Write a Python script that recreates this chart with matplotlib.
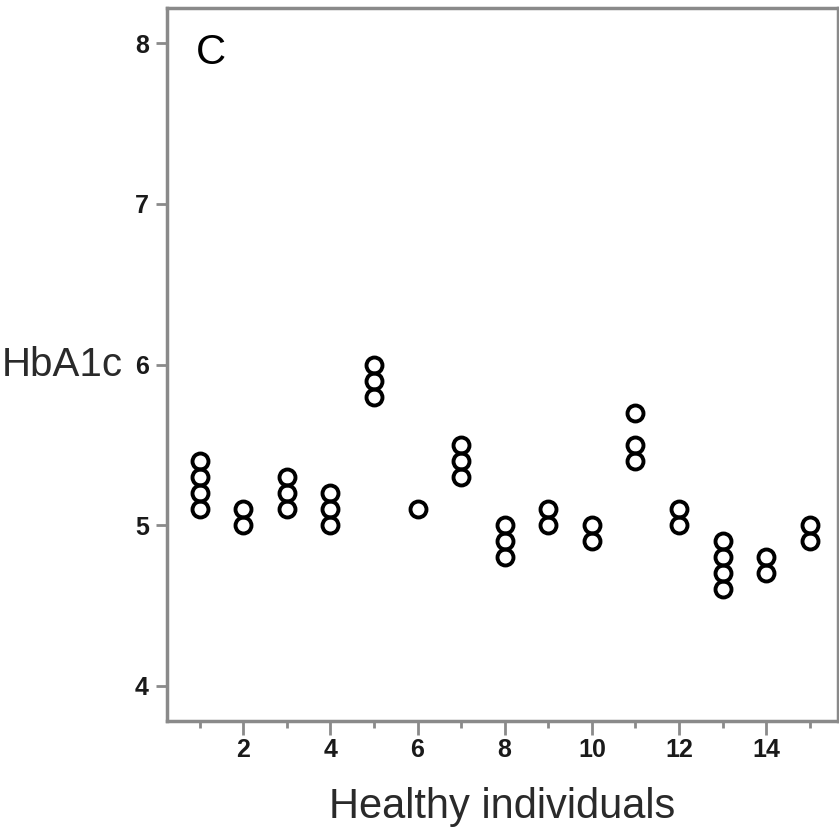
import matplotlib
matplotlib.use("Agg")
import matplotlib.pyplot as plt
import matplotlib.transforms as mtransforms
import numpy as np

plt.rcParams.update({
    "font.family": ["Liberation Sans", "DejaVu Sans"],
})

# HbA1c readings per healthy individual
individual = [1, 1, 1, 1,
              2, 2,
              3, 3, 3,
              4, 4, 4,
              5, 5, 5,
              6,
              7, 7, 7,
              8, 8, 8,
              9, 9,
              10, 10,
              11, 11, 11,
              12, 12,
              13, 13, 13, 13,
              14, 14,
              15, 15]
hba1c = [5.1, 5.2, 5.3, 5.4,
         5.0, 5.1,
         5.1, 5.2, 5.3,
         5.0, 5.1, 5.2,
         5.8, 5.9, 6.0,
         5.1,
         5.3, 5.4, 5.5,
         4.8, 4.9, 5.0,
         5.0, 5.1,
         4.9, 5.0,
         5.4, 5.5, 5.7,
         5.0, 5.1,
         4.6, 4.7, 4.8, 4.9,
         4.7, 4.8,
         4.9, 5.0]

x_major = [2, 4, 6, 8, 10, 12, 14]
x_minor = [1, 3, 5, 7, 9, 11, 13, 15]
y_ticks = [4, 5, 6, 7, 8]

FRAME = "#8a8a8a"
TEXT = "#1a1a1a"

W, H = 839, 832
fig = plt.figure(figsize=(W / 100, H / 100), dpi=100)
ax = fig.add_axes([167 / W, (H - 721) / H, (838 - 167) / W, (721 - 8) / H])

ax.plot(individual, hba1c, "o", ms=11.5, mfc="none", mec="black", mew=2.8, ls="none")

ax.set_xlim(0.25, 15.65)
ax.set_ylim(3.78, 8.22)

ax.set_xticks(x_major)
ax.set_xticks(x_minor, minor=True)
ax.set_yticks(y_ticks)
ax.tick_params(axis="x", which="major", length=10, width=2, color=FRAME,
               labelsize=18, labelcolor=TEXT, pad=2)
ax.tick_params(axis="x", which="minor", length=5, width=2, color=FRAME)
ax.tick_params(axis="y", which="major", length=8, width=2, color=FRAME,
               labelsize=18, labelcolor=TEXT, pad=5)
for lab in ax.get_xticklabels() + ax.get_yticklabels():
    lab.set_fontweight("bold")

for sp in ax.spines.values():
    sp.set_color(FRAME)
    sp.set_linewidth(2.5)

ax.set_xlabel("Healthy individuals", fontsize=30, color="#2a2a2a", labelpad=18)
trans = mtransforms.blended_transform_factory(ax.transAxes, ax.transData)
ax.text(-0.066, 6, "HbA1c", transform=trans, ha="right", va="center",
        fontsize=29, color="#2a2a2a")

ax.text(0.043, 0.965, "C", transform=ax.transAxes, ha="left", va="top",
        fontsize=30, color="black")

fig.savefig("out.png", dpi=100)
